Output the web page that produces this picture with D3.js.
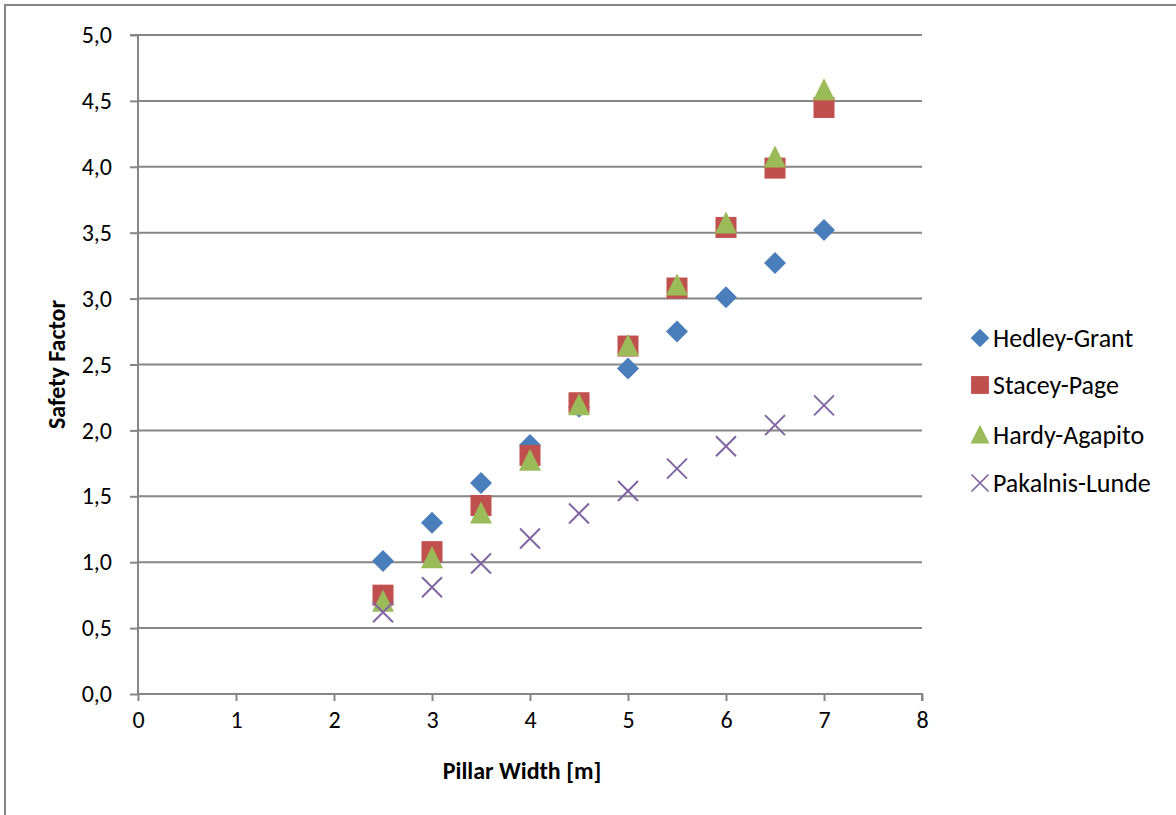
<!DOCTYPE html>
<html>
<head>
<meta charset="utf-8">
<style>
  body { margin: 0; background: #fff; font-family: Carlito, Calibri, Lato, sans-serif; }
  svg text { font-family: Carlito, Calibri, Lato, sans-serif; }
  .tick text { fill: #000; font-size: 24px; }
  .legend text { font-size: 26px; fill: #000; }
  .axis-title { font-size: 24px; font-weight: bold; }
</style>
</head>
<body>
<svg width="1176" height="815"></svg>
<script src="https://d3js.org/d3.v7.min.js"></script>
<script>
const widths = [2.5, 3, 3.5, 4, 4.5, 5, 5.5, 6, 6.5, 7];
const hedleyGrant = [1.01, 1.30, 1.60, 1.89, 2.18, 2.47, 2.75, 3.01, 3.27, 3.52];
const staceyPage = [0.75, 1.08, 1.43, 1.81, 2.21, 2.64, 3.08, 3.54, 3.99, 4.45];
const hardyAgapito = [0.70, 1.03, 1.37, 1.77, 2.19, 2.64, 3.10, 3.57, 4.07, 4.58];
const pakalnisLunde = [0.62, 0.81, 0.99, 1.18, 1.37, 1.54, 1.71, 1.88, 2.04, 2.19];
const seriesNames = ['Hedley-Grant', 'Stacey-Page', 'Hardy-Agapito', 'Pakalnis-Lunde'];
const yTicks = [0, 0.5, 1, 1.5, 2, 2.5, 3, 3.5, 4, 4.5, 5];
const xTicks = [0, 1, 2, 3, 4, 5, 6, 7, 8];

const svg = d3.select('svg');
const grey = '#868686';

svg.append('rect')
  .attr('x', 5).attr('y', 5)
  .attr('width', 1300).attr('height', 1000)
  .attr('fill', 'none').attr('stroke', grey).attr('stroke-width', 2);

const x = d3.scaleLinear().domain([0, 8]).range([138, 922]);
const y = d3.scaleLinear().domain([0, 5]).range([694, 35]);

// gridlines
svg.append('g')
  .selectAll('line')
  .data(yTicks.slice(1))
  .enter().append('line')
    .attr('x1', x(0)).attr('x2', x(8))
    .attr('y1', d => y(d)).attr('y2', d => y(d))
    .attr('stroke', grey).attr('stroke-width', 2);

const yAxis = svg.append('g')
  .attr('transform', `translate(${x(0)},0)`)
  .call(d3.axisLeft(y).tickValues(yTicks).tickSize(8).tickPadding(18)
    .tickFormat(d => d3.format('.1f')(d).replace('.', ',')));

const xAxis = svg.append('g')
  .attr('transform', `translate(0,${y(0)})`)
  .call(d3.axisBottom(x).tickValues(xTicks).tickSize(7).tickPadding(10));

[yAxis, xAxis].forEach(a => {
  a.attr('font-family', null).attr('font-size', null);
  a.select('.domain').attr('stroke', grey).attr('stroke-width', 2);
  a.selectAll('.tick line').attr('stroke', grey).attr('stroke-width', 2);
});
xAxis.select('.domain').attr('d', `M${x(0)},0H${x(8)}V7`);
yAxis.select('.domain').attr('d', `M-8,${y(5)}H0V${y(0)}`);

svg.append('text')
  .attr('class', 'axis-title')
  .attr('x', 522).attr('y', 779)
  .attr('text-anchor', 'middle')
  .text('Pillar Width [m]');

svg.append('text')
  .attr('class', 'axis-title')
  .attr('transform', `translate(65,${y(2.5)}) rotate(-90)`)
  .attr('text-anchor', 'middle')
  .text('Safety Factor');

// marker shapes
const colors = ['#4A7EBB', '#C0504D', '#9BBB59', '#8064A2'];
const markers = [
  g => g.append('path').attr('d', 'M0,-11L11,0L0,11L-11,0Z'),
  g => g.append('rect').attr('x', -10.5).attr('y', -10.5).attr('width', 21).attr('height', 21),
  g => g.append('path').attr('d', 'M0,-12L11,10L-11,10Z'),
  g => g.append('path').attr('d', 'M-10,-10L10,10M-10,10L10,-10').attr('fill', 'none').attr('stroke-width', 2)
];
const seriesData = [hedleyGrant, staceyPage, hardyAgapito, pakalnisLunde];

seriesData.forEach((vals, s) => {
  const pts = svg.append('g')
    .selectAll('g')
    .data(widths.map((w, i) => ({ w, v: vals[i] })))
    .enter().append('g')
      .attr('transform', d => `translate(${x(d.w)},${y(d.v)})`);
  pts.each(function () {
    const m = markers[s](d3.select(this));
    if (s === 3) m.attr('stroke', colors[s]);
    else m.attr('fill', colors[s]);
  });
});

// legend
const legendY = [338, 385, 435, 483];
const legend = svg.append('g').attr('class', 'legend');
seriesNames.forEach((name, i) => {
  const g = legend.append('g').attr('transform', `translate(980,${legendY[i]})`);
  const m = markers[i](g).attr('transform', 'scale(0.85)');
  if (i === 3) m.attr('stroke', colors[i]);
  else m.attr('fill', colors[i]);
  g.append('text').attr('x', 13).attr('y', 9).text(name);
});
</script>
</body>
</html>
